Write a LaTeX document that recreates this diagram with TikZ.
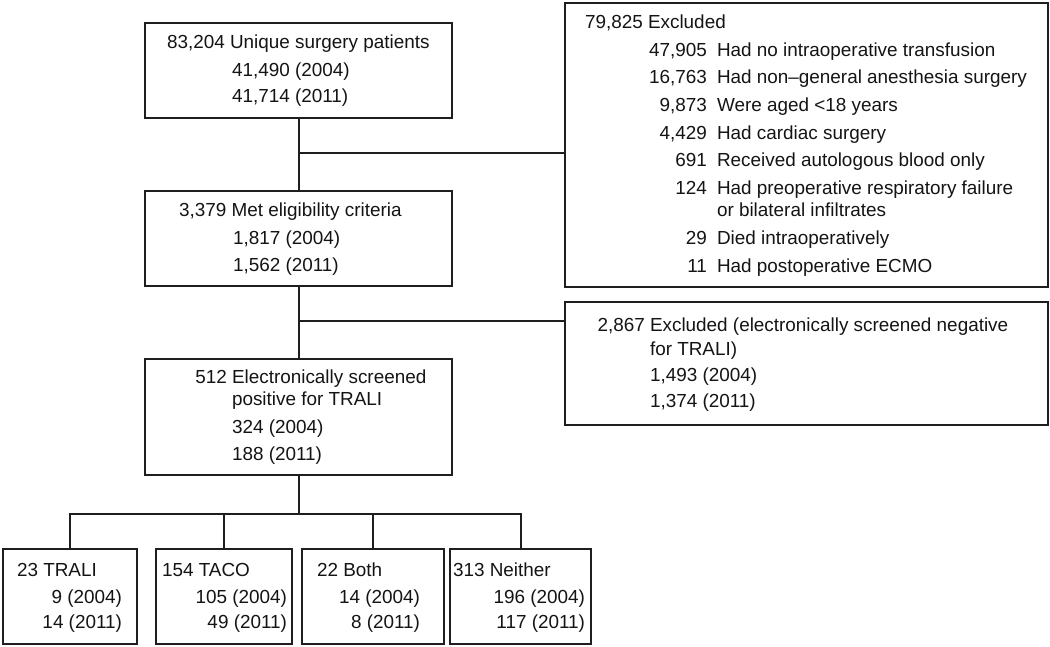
\documentclass[tikz,border=0pt]{standalone}
\usepackage{fontspec}
\setmainfont{Liberation Sans}
\newcommand\fsz{\fontsize{18.9}{22}\selectfont}
\definecolor{linec}{HTML}{1E1E1E}
\definecolor{textc}{HTML}{141414}
\tikzset{
  box/.style={draw=linec, line width=2pt, rectangle, inner sep=0pt, outer sep=0pt},
  txt/.style={inner sep=0pt, outer sep=0pt, text=textc, font=\fsz, anchor=base west},
  num/.style={txt, anchor=base east},
  conn/.style={draw=linec, line width=2pt}
}
\begin{document}
\begin{tikzpicture}[x=1pt, y=-1pt]
\useasboundingbox (0,0) rectangle (1050,646);

% ---------- boxes ----------
\node[box, minimum width=307pt, minimum height=95pt]  (A)  at (298.5,70.5) {};
\node[box, minimum width=307pt, minimum height=95pt]  (B)  at (298.5,238.5) {};
\node[box, minimum width=307pt, minimum height=116pt] (C)  at (298.5,417) {};
\node[box, minimum width=483pt, minimum height=284pt] (R1) at (806.5,145) {};
\node[box, minimum width=483pt, minimum height=123pt] (R2) at (806.5,363.5) {};
\node[box, minimum width=134pt, minimum height=95pt]  (D1) at (70,596.5) {};
\node[box, minimum width=136pt, minimum height=95pt]  (D2) at (224,596.5) {};
\node[box, minimum width=142pt, minimum height=95pt]  (D3) at (373,596.5) {};
\node[box, minimum width=141pt, minimum height=95pt]  (D4) at (520.5,596.5) {};

% ---------- texts: top box ----------
\node[txt] (a1) at (167,48)  {83,204 Unique surgery patients};
\node[txt] (a2) at (232,76)  {41,490 (2004)};
\node[txt] (a3) at (232,102) {41,714 (2011)};

% ---------- texts: eligibility ----------
\node[txt] (b1) at (179,216) {3,379 Met eligibility criteria};
\node[txt] (b2) at (233,244) {1,817 (2004)};
\node[txt] (b3) at (233,271) {1,562 (2011)};

% ---------- texts: screened positive ----------
\node[num] (c0) at (227,383) {512};
\node[txt] (c1) at (232,383) {Electronically screened};
\node[txt] (c2) at (232,405) {positive for TRALI};
\node[txt] (c3) at (232,433) {324 (2004)};
\node[txt] (c4) at (232,460) {188 (2011)};

% ---------- texts: excluded 1 ----------
\node[txt] (r0) at (585,28) {79,825 Excluded};
\node[num] (rn1) at (707,56)  {47,905};
\node[txt] (rt1) at (717,56)  {Had no intraoperative transfusion};
\node[num] (rn2) at (707,83.5) {16,763};
\node[txt] (rt2) at (717,83.5) {Had non–general anesthesia surgery};
\node[num] (rn3) at (707,111) {9,873};
\node[txt] (rt3) at (717,111) {Were aged <18 years};
\node[num] (rn4) at (707,139) {4,429};
\node[txt] (rt4) at (717,139) {Had cardiac surgery};
\node[num] (rn5) at (707,166) {691};
\node[txt] (rt5) at (717,166) {Received autologous blood only};
\node[num] (rn6) at (707,194) {124};
\node[txt] (rt6) at (717,194) {Had preoperative respiratory failure};
\node[txt] (rt6b) at (717,216.7) {or bilateral infiltrates};
\node[num] (rn7) at (707,244) {29};
\node[txt] (rt7) at (717,244) {Died intraoperatively};
\node[num] (rn8) at (707,272) {11};
\node[txt] (rt8) at (717,272) {Had postoperative ECMO};

% ---------- texts: excluded 2 ----------
\node[num] (s0) at (645,331) {2,867};
\node[txt] (s1) at (650,331) {Excluded (electronically screened negative};
\node[txt] (s2) at (650,355) {for TRALI)};
\node[txt] (s3) at (650,381) {1,493 (2004)};
\node[txt] (s4) at (650,407) {1,374 (2011)};

% ---------- texts: bottom boxes ----------
\node[txt] (d1a) at (17,576)  {23 TRALI};
\node[num] (d1b) at (122,603) {9 (2004)};
\node[num] (d1c) at (122,628) {14 (2011)};

\node[txt] (d2a) at (162,576) {154 TACO};
\node[num] (d2b) at (287,603) {105 (2004)};
\node[num] (d2c) at (287,628) {49 (2011)};

\node[txt] (d3a) at (317,576) {22 Both};
\node[num] (d3b) at (420,603) {14 (2004)};
\node[num] (d3c) at (420,628) {8 (2011)};

\node[txt] (d4a) at (453,576) {313 Neither};
\node[num] (d4b) at (585,603) {196 (2004)};
\node[num] (d4c) at (585,628) {117 (2011)};

% ---------- connectors ----------
\coordinate (j1) at (298.5,153);
\coordinate (j2) at (298.5,321);
\coordinate (j3) at (298.5,514);

\draw[conn] (A.south) -- (B.north);
\draw[conn] (j1) -- (j1 -| R1.west);
\draw[conn] (B.south) -- (C.north);
\draw[conn] (j2) -- (j2 -| R2.west);
\draw[conn] (C.south) -- (j3);
\draw[conn, line cap=rect] (j3 -| D1.north) -- (j3 -| D4.north);
\draw[conn] (D1.north) -- (D1.north |- j3);
\draw[conn] (D2.north) -- (D2.north |- j3);
\draw[conn] (D3.north) -- (D3.north |- j3);
\draw[conn] (D4.north) -- (D4.north |- j3);
\end{tikzpicture}
\end{document}
